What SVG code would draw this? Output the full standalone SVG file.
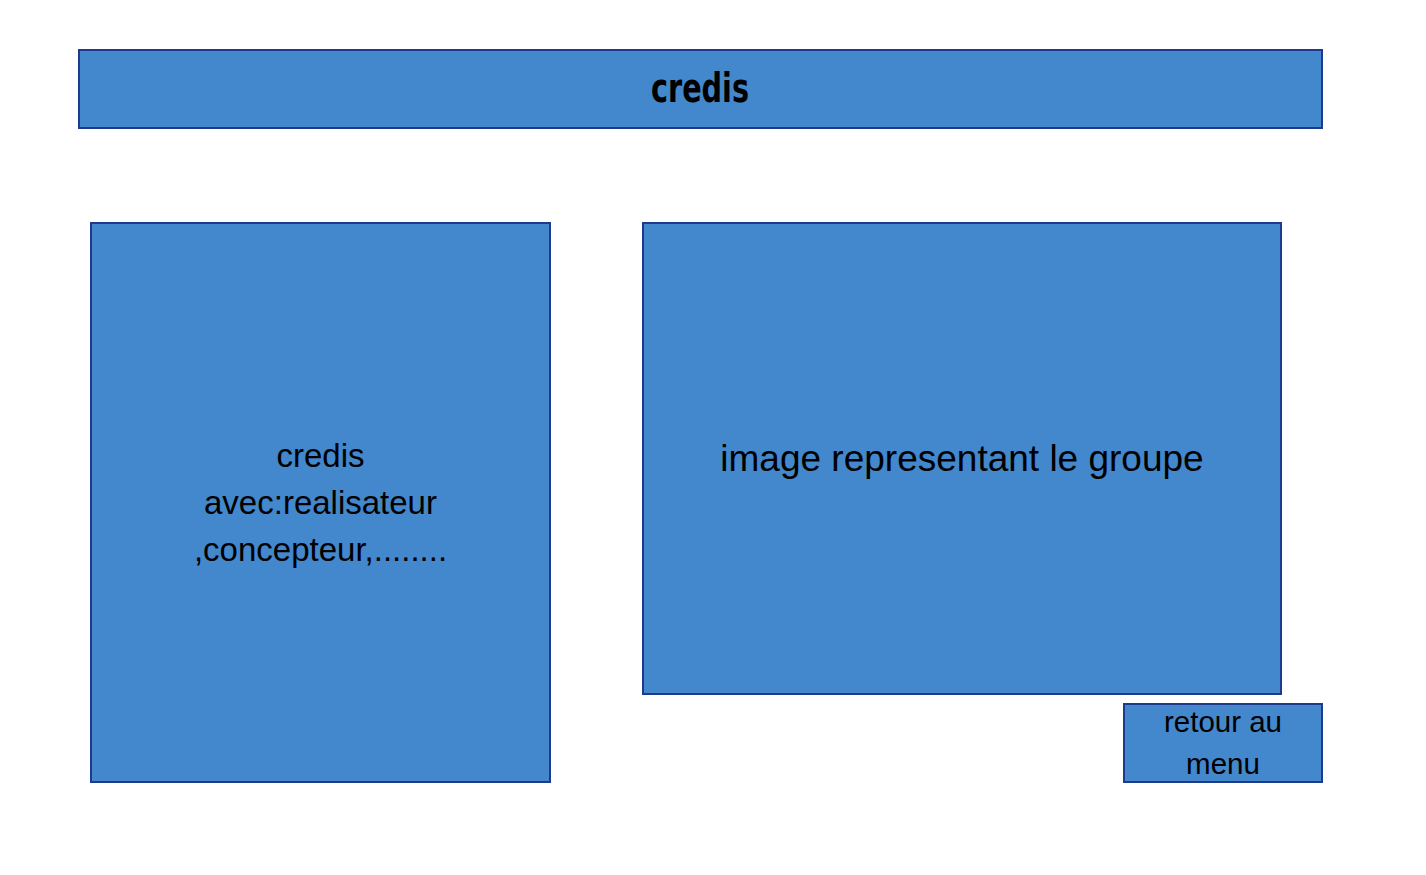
<svg xmlns="http://www.w3.org/2000/svg" width="1426" height="875" viewBox="0 0 1426 875">
<style>
.box{fill:#4387cc;stroke:#1d3a8c;stroke-width:2}
.t{font-family:"Liberation Sans",Arial,sans-serif;fill:#000;text-anchor:middle}
.title{font-family:"DejaVu Sans Condensed","DejaVu Sans",sans-serif;font-weight:bold;font-size:40px;fill:#000;text-anchor:middle}
</style>
<rect width="1426" height="875" fill="#fff"/>
<g id="title">
<rect class="box" x="79" y="50" width="1243" height="78"/>
<text class="title" x="700" y="102" textLength="98" lengthAdjust="spacingAndGlyphs">credis</text>
</g>
<g id="credits">
<rect class="box" x="91" y="223" width="459" height="559"/>
<text class="t" font-size="33" x="320.5" y="467">credis</text>
<text class="t" font-size="33" x="320.5" y="514">avec:realisateur</text>
<text class="t" font-size="33" x="320.5" y="561">,concepteur,........</text>
</g>
<g id="image">
<rect class="box" x="643" y="223" width="638" height="471"/>
<text class="t" font-size="37" x="962" y="471">image representant le groupe</text>
</g>
<g id="retour">
<rect class="box" x="1124" y="704" width="198" height="78"/>
<text class="t" font-size="29.5" x="1223" y="732">retour au</text>
<text class="t" font-size="29.5" x="1223" y="774">menu</text>
</g>
<g id="connectors"></g>
</svg>
